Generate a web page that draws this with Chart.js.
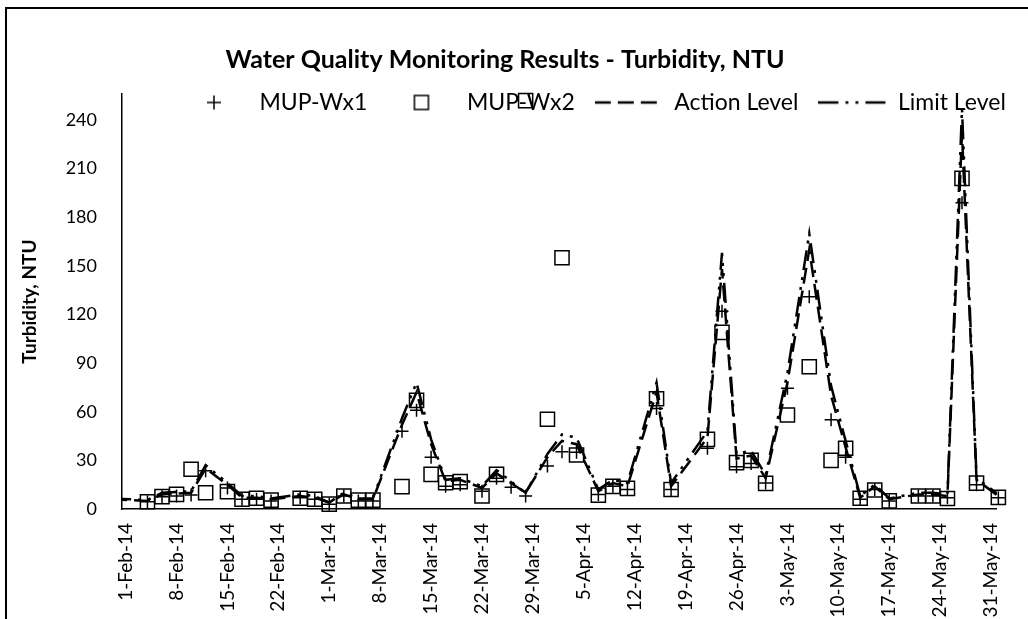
<!DOCTYPE html>
<html lang="en">
<head>
  <meta charset="UTF-8">
  <title>Turbidity</title>
  <script src="https://cdn.jsdelivr.net/npm/chart.js"></script>
  <style>
    body { margin: 0; background: #fff; }
    #frame { position: absolute; left: 5px; top: 7px; width: 1100px; height: 700px;
             border-left: 2px solid #000; border-top: 2px solid #000; }
    #chart { position: absolute; left: 0; top: 0; }
  </style>
</head>
<body>
  <div id="frame"></div>
  <canvas id="chart" width="1028" height="619"></canvas>

  <script>
    // days counted from 1-Feb-14 (day 0)
    const sampleDays = [3, 5, 7, 9, 11, 14, 16, 18, 20, 24, 26, 28, 30, 32, 34, 38, 40, 42, 44, 46,
      49, 51, 53, 55, 58, 60, 62, 65, 67, 69, 73, 75, 80, 82, 84, 86, 88, 91, 94, 97,
      99, 101, 103, 105, 109, 111, 113, 115, 117, 120];
    const wx1 = [4.5, 7.5, 8, 8.6, 23.6, 13, 6, 6, 5, 7, 6, 3, 8, 5, 5, 48, 61, 32, 14, 15,
      11, 19, 13.4, 8, 26.5, 35.4, 35, 9, 14, 12, 62, 12, 37.5, 122, 26, 28, 16, 74.5, 131, 55,
      32, 6, 12, 5, 8, 8, 7, 189, 15, 7];
    const wx2 = [4.5, 7.6, 9, 24.5, 10, 10.7, 6, 6.6, 5.5, 6.6, 6, 3, 8, 5.5, 5.5, 13.8, 67, 21.4, 16.2, 16.9,
      8, 21.4, null, 252, 55.4, 155, 33.3, 8.6, 14, 12.7, 68, 12, 43, 109, 28.6, 30, 15.8, 58, 87.8, 30,
      37.5, 6.6, 11.7, 5, 8, 8, 6.5, 204, 16, 7.2];

    const levelDays = [-2, 3, 5, 7, 9, 11, 14, 16, 18, 20, 24, 26, 28, 30, 32, 34, 38, 40, 42, 44, 46,
      49, 51, 53, 55, 58, 60, 62, 65, 67, 69, 73, 75, 80, 82, 84, 86, 88, 91, 94, 97,
      99, 101, 103, 105, 109, 111, 113, 115, 117, 120];
    const actionLevel = [6, 5, 9, 9.5, 10, 25, 15, 7, 7, 6, 8, 7, 4, 9, 6, 6, 52, 72, 40, 17, 18,
      13, 22, 16, 10, 32, 42, 40, 11, 16, 14, 72, 14, 44, 148, 31, 33, 19, 78, 160, 70,
      38, 7, 14, 6, 9, 9, 8, 232, 18, 8];
    const limitLevel = [6.5, 5.5, 10, 10.5, 11, 27, 16, 8, 8, 6.5, 9, 8, 4, 10, 6.5, 6.5, 56, 78, 43, 18, 19,
      14, 24, 17, 10, 34, 46, 44, 12, 18, 16, 78, 16, 48, 158, 34, 36, 21, 84, 170, 76,
      42, 8, 15, 6.5, 10, 10, 9, 247, 19, 9];

    const tickDays = [0, 7, 14, 21, 28, 35, 42, 49, 56, 63, 70, 77, 84, 91, 98, 105, 112, 119];
    const tickLabels = ['1-Feb-14', '8-Feb-14', '15-Feb-14', '22-Feb-14', '1-Mar-14', '8-Mar-14',
      '15-Mar-14', '22-Mar-14', '29-Mar-14', '5-Apr-14', '12-Apr-14', '19-Apr-14', '26-Apr-14',
      '3-May-14', '10-May-14', '17-May-14', '24-May-14', '31-May-14'];
    const yTicks = [0, 30, 60, 90, 120, 150, 180, 210, 240];

    const pairs = (xs, ys) => xs.map((x, i) => ({ x: x, y: ys[i] }));

    // little canvases used as legend symbols
    function icon(draw) {
      const c = document.createElement('canvas');
      c.width = 68; c.height = 20;
      const g = c.getContext('2d');
      g.strokeStyle = '#000';
      draw(g);
      return c;
    }
    const plusIcon = icon(g => {
      g.lineWidth = 1.5; g.beginPath();
      g.moveTo(27, 10); g.lineTo(41, 10); g.moveTo(34, 3); g.lineTo(34, 17); g.stroke();
    });
    const squareIcon = icon(g => { g.lineWidth = 1.5; g.strokeRect(27, 3, 14, 14); });
    const dashIcon = icon(g => {
      g.lineWidth = 2.5; g.setLineDash([16, 7]); g.beginPath();
      g.moveTo(0, 10); g.lineTo(68, 10); g.stroke();
    });
    const dashDotIcon = icon(g => {
      g.lineWidth = 2.5; g.setLineDash([20, 7, 3, 7, 3, 7]); g.beginPath();
      g.moveTo(0, 10); g.lineTo(68, 10); g.stroke();
    });
    const icons = [plusIcon, squareIcon, dashIcon, dashDotIcon];

    // Excel draws the legend inside the plot area: it takes no room, then gets moved there
    const legendInPlot = {
      id: 'legendInPlot',
      afterLayout(chart) {
        const lg = chart.legend;
        lg.top = 71; lg.bottom = 130;
        lg.left = 160; lg.right = 1028;
      }
    };

    const font = 'Lato, "Open Sans", sans-serif';

    new Chart(document.getElementById('chart'), {
      type: 'line',
      data: {
        datasets: [
          {
            label: 'MUP-Wx1', data: pairs(sampleDays, wx1), showLine: false,
            pointStyle: 'cross', pointRadius: 6.5, pointBorderWidth: 1.5,
            pointBorderColor: '#000', borderColor: '#000', clip: false
          },
          {
            label: 'MUP-Wx2', data: pairs(sampleDays, wx2), showLine: false,
            pointStyle: 'rect', pointRadius: 10, pointBorderWidth: 1.5,
            pointBorderColor: '#000', pointBackgroundColor: 'rgba(0,0,0,0)', borderColor: '#000', clip: false
          },
          {
            label: 'Action Level', data: pairs(levelDays, actionLevel), pointRadius: 0,
            borderColor: '#000', borderWidth: 2.5, borderDash: [16, 7], tension: 0, clip: 0
          },
          {
            label: 'Limit Level', data: pairs(levelDays, limitLevel), pointRadius: 0,
            borderColor: '#000', borderWidth: 2.5, borderDash: [20, 7, 3, 7, 3, 7], tension: 0, clip: 0
          }
        ]
      },
      plugins: [legendInPlot],
      options: {
        responsive: false,
        animation: false,
        layout: { padding: { left: 0, right: 18, top: 0, bottom: 0 } },
        plugins: {
          tooltip: { enabled: false },
          title: {
            display: true,
            text: 'Water Quality Monitoring Results - Turbidity, NTU',
            color: '#000',
            font: { family: font, size: 25, weight: 'bold' },
            padding: { top: 45, bottom: 19 }
          },
          legend: {
            position: 'top',
            align: 'start',
            maxHeight: 0.1,
            labels: {
              usePointStyle: true,
              pointStyleWidth: 68,
              padding: 20,
              color: '#000',
              font: { family: font, size: 23 },
              generateLabels: chart => chart.data.datasets.map((ds, i) => ({
                text: ds.label, pointStyle: icons[i], datasetIndex: i,
                fillStyle: 'rgba(0,0,0,0)', strokeStyle: '#000', lineWidth: 0, hidden: false
              }))
            }
          }
        },
        scales: {
          x: {
            type: 'linear',
            min: -0.5,
            max: 119.8,
            grid: { display: false, drawTicks: false },
            border: { display: true, color: '#000', width: 1.5 },
            afterBuildTicks: s => { s.ticks = tickDays.map(v => ({ value: v })); },
            afterFit: s => { s.height = 110; },
            ticks: {
              autoSkip: false, minRotation: 90, maxRotation: 90, padding: 14, color: '#000',
              font: { family: font, size: 19 },
              callback: v => tickLabels[tickDays.indexOf(v)]
            }
          },
          y: {
            min: 0,
            max: 256,
            grid: { display: false, drawTicks: false },
            border: { display: true, color: '#000', width: 1.5 },
            afterBuildTicks: s => { s.ticks = yTicks.map(v => ({ value: v })); },
            afterFit: s => { s.width = 122; },
            ticks: { padding: 25, color: '#000', font: { family: font, size: 18 } },
            title: {
              display: true, text: 'Turbidity, NTU', color: '#000',
              font: { family: font, size: 19, weight: 'bold' },
              padding: { top: 18, bottom: 0 }
            }
          }
        }
      }
    });
  </script>
</body>
</html>
